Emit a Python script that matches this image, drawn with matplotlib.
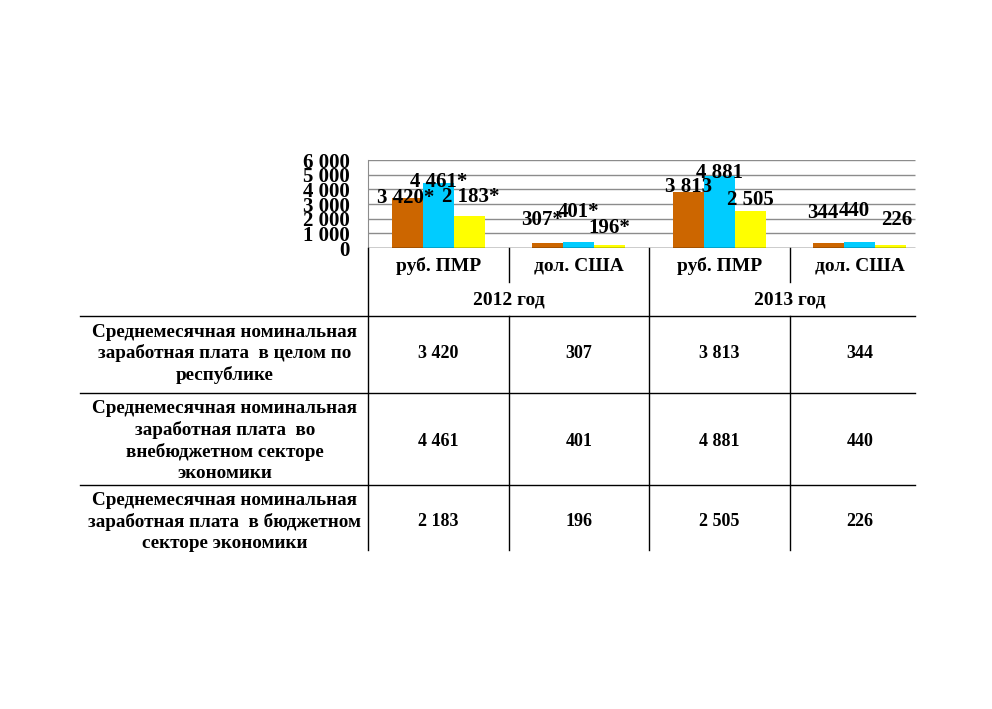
import matplotlib
matplotlib.use("Agg")
import matplotlib.pyplot as plt
import numpy as np

# data
categories = ["руб. ПМР", "дол. США", "руб. ПМР", "дол. США"]
years = ["2012 год", "2013 год"]
total = [3420, 307, 3813, 344]
nonbudget = [4461, 401, 4881, 440]
budget = [2183, 196, 2505, 226]
star = ["*", "*", "", ""]
row_names = [
    "Среднемесячная номинальная\nзаработная плата  в целом по\nреспублике",
    "Среднемесячная номинальная\nзаработная плата  во\nвнебюджетном секторе\nэкономики",
    "Среднемесячная номинальная\nзаработная плата  в бюджетном\nсекторе экономики",
]
yticks = [0, 1000, 2000, 3000, 4000, 5000, 6000]

colors = ["#CC6600", "#00CCFF", "#FFFF00"]
W, H = 992, 709
plt.rcParams["font.family"] = ["Liberation Serif", "DejaVu Serif"]
plt.rcParams["font.weight"] = "bold"


def fx(px):
    return px / W


def fy(py):
    return 1 - py / H


def fmt(v):
    return "{:,}".format(v).replace(",", " ")


fig = plt.figure(figsize=(W / 100, H / 100), dpi=100)
ax = fig.add_axes([fx(368), fy(248), (930 - 368) / W, (248 - 160) / H])

x = np.arange(len(categories))
bw = 0.22
series = [total, nonbudget, budget]
# label nudges in pixels (dx, dy) per series / category
nudges = [
    [(-2, 0), (-6, 23), (0, 5), (-6, 30)],
    [(0, 1), (0, 30), (0, 3), (-5, 31)],
    [(2, 19), (0, 17), (0, 11), (6, 25)],
]
for i, vals in enumerate(series):
    xs = x + (i - 1) * bw
    ax.bar(xs, vals, bw, color=colors[i], zorder=3)
    for j, v in enumerate(vals):
        ax.annotate(fmt(v) + star[j], (xs[j], v), xytext=nudges[i][j],
                    textcoords="offset pixels", ha="center", va="center",
                    fontsize=15, fontweight="bold", zorder=5)

ax.set_xlim(-0.5, 3.5)
ax.set_ylim(0, 6000)
gx_end = -0.5 + (915 - 368) / 140.5
ax.hlines(yticks[1:], -0.5, gx_end, color="#8c8c8c", lw=1, zorder=1)
ax.hlines(0, -0.5, gx_end, color="black", lw=1, zorder=4)
for s in ["top", "right", "bottom"]:
    ax.spines[s].set_visible(False)
ax.spines["left"].set_color("#8c8c8c")
ax.set_xticks([])
ax.set_yticks(yticks)
ax.set_yticklabels([fmt(t) for t in yticks], fontsize=15, fontweight="bold")
ax.tick_params(axis="y", length=0, pad=13)

# table below the chart
line = dict(color="black", lw=1)
cols = [368, 508.5, 649, 789.5, 930]
for yy in [316, 393, 485]:
    fig.add_artist(plt.Line2D([fx(80), fx(915)], [fy(yy), fy(yy)], **line))
fig.add_artist(plt.Line2D([fx(368), fx(368)], [fy(248), fy(550)], **line))
fig.add_artist(plt.Line2D([fx(649), fx(649)], [fy(248), fy(550)], **line))
for cx in [508.5, 789.5]:
    fig.add_artist(plt.Line2D([fx(cx), fx(cx)], [fy(248), fy(282)], **line))
    fig.add_artist(plt.Line2D([fx(cx), fx(cx)], [fy(316), fy(550)], **line))

for j, c in enumerate(categories):
    cx = (cols[j] + cols[j + 1]) / 2
    fig.text(fx(cx), fy(266), c, ha="center", va="center", fontsize=14, fontweight="bold")
for k, yr in enumerate(years):
    fig.text(fx(cols[2 * k + 1]), fy(300), yr, ha="center", va="center", fontsize=14, fontweight="bold")

row_mid = [354, 441, 522]
for r, name in enumerate(row_names):
    fig.text(fx(225), fy(row_mid[r]), name, ha="center", va="center",
             fontsize=13.8, fontweight="bold", linespacing=1.28)
    for j in range(len(categories)):
        cx = (cols[j] + cols[j + 1]) / 2
        fig.text(fx(cx), fy(row_mid[r]), fmt(series[r][j]), ha="center", va="center",
                 fontsize=13, fontweight="bold")

fig.savefig("out.png", dpi=100)
